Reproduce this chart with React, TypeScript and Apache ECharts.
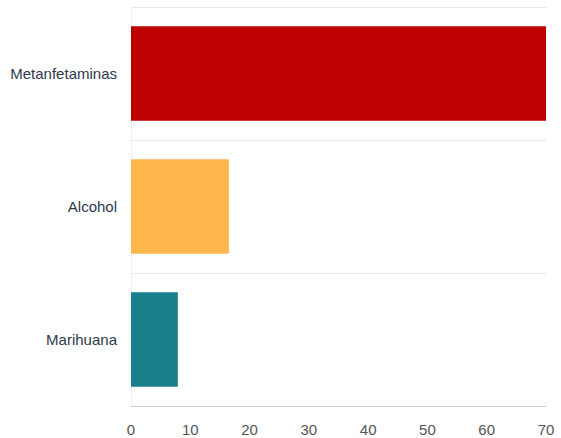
import React, { useEffect, useRef } from "react";
import * as echarts from "echarts";

const categories = ["Metanfetaminas", "Alcohol", "Marihuana"];
const values = [70, 16.5, 7.9];
const barColors = ["#BF0000", "#FDB64B", "#197F8B"];
const xTicks = [0, 10, 20, 30, 40, 50, 60, 70];

export default function App() {
  const ref = useRef<HTMLDivElement>(null);
  useEffect(() => {
    if (!ref.current) return;
    const chart = echarts.init(ref.current, undefined, { renderer: "svg" });
    chart.setOption({
      animation: false,
      backgroundColor: "#ffffff",
      grid: { left: 131, right: 15, top: 7, bottom: 32, containLabel: false },
      xAxis: [
        {
          type: "value",
          min: xTicks[0],
          max: xTicks[xTicks.length - 1],
          interval: 10,
          axisLine: { show: true, lineStyle: { color: "#d0d0d0", width: 1 } },
          axisTick: { show: false },
          splitLine: { show: false },
          axisLabel: {
            color: "#555555",
            fontSize: 15,
            fontFamily: "Liberation Sans, Arial, sans-serif",
            margin: 16,
          },
        },
        {
          type: "value",
          position: "top",
          min: xTicks[0],
          max: xTicks[xTicks.length - 1],
          interval: 10,
          axisLine: { show: true, lineStyle: { color: "#e8e8e8", width: 1 } },
          axisTick: { show: false },
          splitLine: { show: false },
          axisLabel: { show: false },
        },
      ],
      yAxis: {
        type: "category",
        data: categories,
        inverse: true,
        axisLine: { show: true, lineStyle: { color: "#eeeeee", width: 1 } },
        axisTick: { show: false },
        splitLine: { show: true, lineStyle: { color: "#e8e8e8", width: 1 } },
        axisLabel: {
          color: "#2c3a4c",
          fontSize: 15,
          fontFamily: "Liberation Sans, Arial, sans-serif",
          margin: 14,
        },
      },
      series: [
        {
          type: "bar",
          data: values.map((v, i) => ({ value: v, itemStyle: { color: barColors[i] } })),
          barWidth: "71%",
        },
      ],
    });
    return () => chart.dispose();
  }, []);
  return (
    <div
      ref={ref}
      style={{ position: "fixed", left: 0, top: 0, width: 561, height: 438, overflow: "hidden" }}
    />
  );
}
